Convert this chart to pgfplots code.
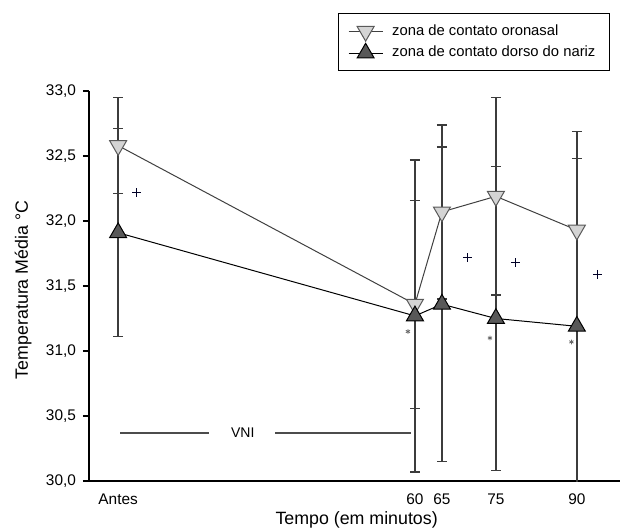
\documentclass[border=0pt]{standalone}
\usepackage{pgfplots}
\pgfplotsset{compat=1.18}
\usepackage{pgfplotstable}
\usepackage{fontspec}
\setmainfont{Liberation Sans}
\definecolor{lgray}{RGB}{212,212,212}
\definecolor{dgray}{RGB}{88,88,88}
\definecolor{ebar}{RGB}{60,60,60}

\pgfplotstableread{
x y e
5 32.58 0.37
60 31.36 0.80
65 32.07 0.67
75 32.19 0.76
90 31.93 0.76
}\oronasal
\pgfplotstableread{
x y e
5 31.91 0.80
60 31.27 1.20
65 31.36 1.21
75 31.25 1.17
90 31.19 1.29
}\dorso

\begin{document}
\begin{tikzpicture}
\begin{axis}[
 scale only axis, width=265.5pt, height=195pt,
 xmin=-0.4, xmax=98, ymin=30, ymax=33,
 axis x line*=bottom, axis y line*=left,
 axis line style={line width=0.7pt, -},
 xtick={5,60,65,75,90}, xticklabels={Antes,60,65,75,90},
 x tick style={draw=none},
 ytick={30,30.5,31,31.5,32,32.5,33},
 y tick style={line width=0.6pt, black},
 tick align=outside, major tick length=3pt,
 yticklabel style={/pgf/number format/.cd, fixed, fixed zerofill, precision=1, use comma},
 /pgf/number format/assume math mode=true,
 tick label style={font=\fontsize{7.7}{9}\selectfont},
 xlabel={Tempo (em minutos)}, ylabel={Temperatura Média °C},
 label style={font=\fontsize{8.9}{10}\selectfont},
 xlabel style={at={(axis description cs:0.504,-0.1)}, anchor=center},
 ylabel style={at={(axis description cs:-0.124,0.49)}, anchor=center},
 legend style={at={(0.981,1.2)}, anchor=north east, draw=black, line width=0.5pt,
   font=\fontsize{7.4}{9}\selectfont, inner xsep=5pt, inner ysep=3.5pt, column sep=2.5pt},
 legend cell align=left,
]
\addplot[color=black!75, line width=0.5pt, mark=triangle*, mark size=4.9pt,
  mark options={rotate=180, fill=lgray, draw=black!65, line width=0.5pt},
  error bars/.cd, y dir=both, y explicit,
  error bar style={ebar, line width=0.7pt},
  error mark options={rotate=90, mark size=2.5pt, ebar, line width=0.7pt}]
  table[x=x, y=y, y error=e] {\oronasal};
\addlegendentry{zona de contato oronasal}
\addplot[color=black, line width=0.5pt, mark=triangle*, mark size=4.9pt,
  mark options={fill=dgray, draw=black, line width=0.5pt},
  error bars/.cd, y dir=both, y explicit,
  error bar style={ebar, line width=0.7pt},
  error mark options={rotate=90, mark size=2.5pt, ebar, line width=0.7pt}]
  table[x=x, y=y, y error=e] {\dorso};
\addlegendentry{zona de contato dorso do nariz}
% significance markers
\addplot[only marks, mark=+, mark size=2.2pt, color=black!85!blue, line width=0.6pt, forget plot]
  coordinates {(8.46,32.22) (69.7,31.72) (78.6,31.68) (93.8,31.59)};
\addplot[only marks, mark=asterisk, mark size=1.2pt, color=black!60, line width=0.4pt, forget plot]
  coordinates {(58.7,31.15) (73.9,31.10) (89.0,31.07)};
% VNI bracket lines
\addplot[black!70, line width=0.6pt, forget plot] coordinates {(5.43,30.37) (21.85,30.37)};
\addplot[black!70, line width=0.6pt, forget plot] coordinates {(34.1,30.37) (59.3,30.37)};
\node[font=\fontsize{7}{8}\selectfont] at (axis cs:28.1,30.37) {VNI};
\coordinate (LL) at (rel axis cs:0,0);
\end{axis}
\pgfresetboundingbox
\path[use as bounding box] (LL) ++(-44.5pt,-23pt) rectangle ++(310pt,263.5pt);
\end{tikzpicture}
\end{document}
